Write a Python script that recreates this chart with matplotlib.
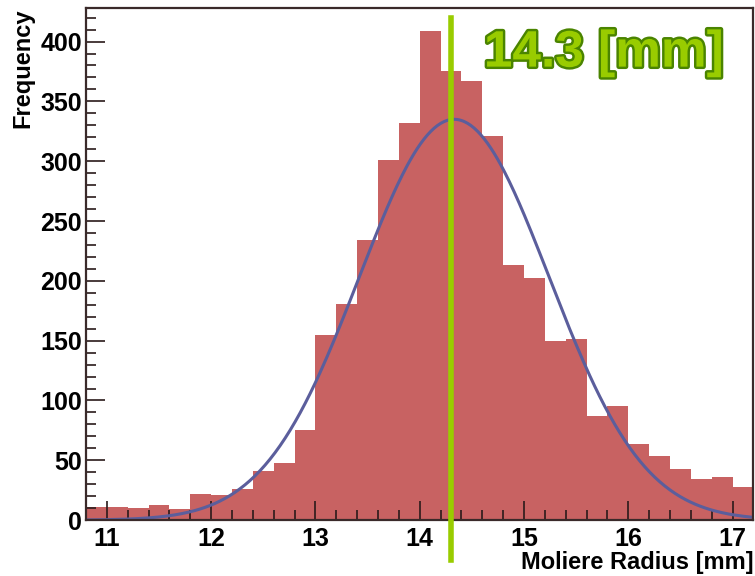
import numpy as np
import matplotlib.pyplot as plt
import matplotlib.patheffects as pe

# histogram of Moliere radius, 0.2 mm bins from 10.8 to 17.2
bin_edges = np.round(np.arange(10.8, 17.2001, 0.2), 1)
counts = [11, 11, 10, 13, 9, 22, 21, 26, 41, 48, 75, 155, 181, 234, 301, 332,
          409, 375, 367, 321, 213, 202, 150, 151, 87, 95, 64, 54, 43, 34, 36, 28]

# gaussian fit parameters
fit_amp = 335.0
fit_mean = 14.33
fit_sigma = 0.91

peak_value = 14.3
peak_label = '14.3 [mm]'

plt.rcParams['font.family'] = ['Liberation Sans', 'DejaVu Sans']
plt.rcParams['font.weight'] = 'bold'

fig = plt.figure(figsize=(7.55, 5.76), dpi=100)
ax = fig.add_axes([0.114, 0.097, 0.884, 0.889])

ax.bar(bin_edges[:-1], counts, width=0.2, align='edge', color='#c86262', linewidth=0)

xs = np.linspace(bin_edges[0], bin_edges[-1], 400)
ax.plot(xs, fit_amp * np.exp(-0.5 * ((xs - fit_mean) / fit_sigma) ** 2),
        color='#5b5e9c', lw=2.2)

ax.set_xlim(10.8, 17.2)
ax.set_ylim(0, 428)

# marker line for the fitted peak, runs past the bottom of the frame
ax.plot([peak_value, peak_value], [0.98, -0.078], transform=ax.get_xaxis_transform(),
        color='#99cc00', lw=4, clip_on=False, zorder=5)
ax.text(0.955, 0.912, peak_label, transform=ax.transAxes, ha='right', va='center',
        fontsize=37, fontweight='bold', color='#99cc00',
        path_effects=[pe.withStroke(linewidth=3.5, foreground='#4a8400')])

ax.set_xticks(range(11, 18))
ax.set_xticks(np.arange(10.8, 17.21, 0.2), minor=True)
ax.set_yticks(range(0, 401, 50))
ax.set_yticks(range(0, 421, 10), minor=True)
ax.tick_params(which='both', direction='in', labelsize=18, color='#2a1a1a', width=1.2)
ax.tick_params(which='major', length=14)
ax.tick_params(which='minor', length=7)
ax.tick_params(axis='x', which='both', top=False, pad=5)
ax.tick_params(axis='y', which='both', right=False, pad=3)
for lab in ax.get_xticklabels() + ax.get_yticklabels():
    lab.set_fontweight('bold')

for sp in ax.spines.values():
    sp.set_color('#3a2a2a')
    sp.set_linewidth(1.6)

ax.set_xlabel('Moliere Radius [mm]', fontsize=17, fontweight='bold', loc='right', labelpad=0)
ax.set_ylabel('Frequency', fontsize=17, fontweight='bold', loc='top', labelpad=4)

fig.savefig('out.png', dpi=100)
